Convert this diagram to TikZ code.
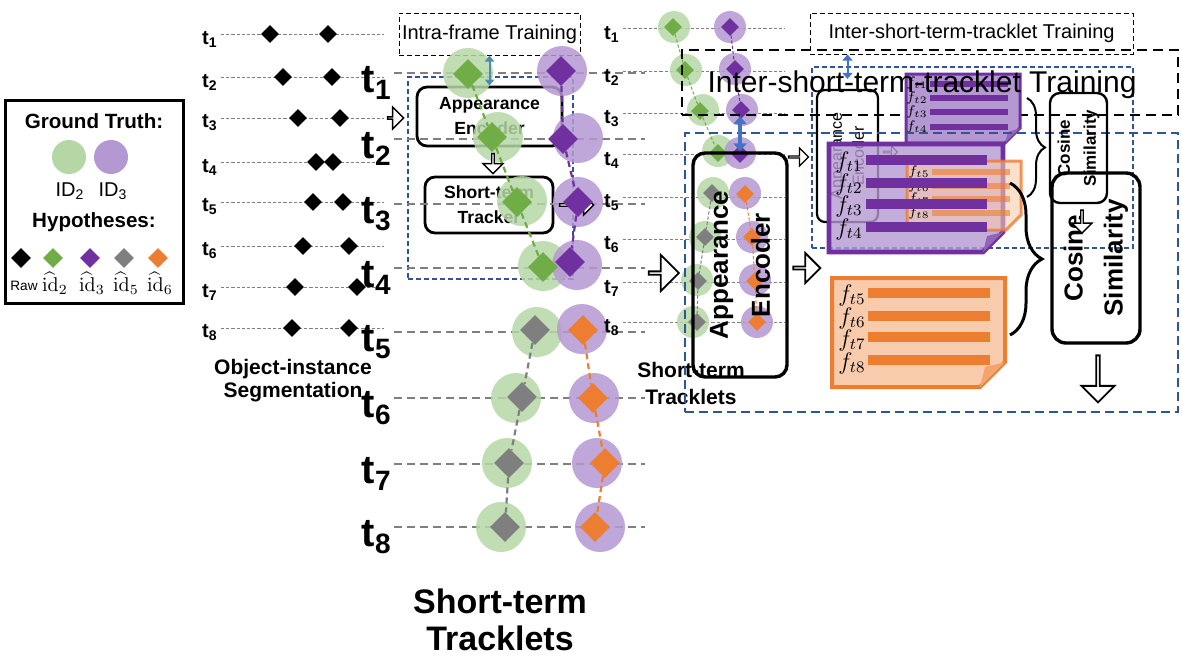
\documentclass[tikz,border=0pt]{standalone}
\usepackage[no-math]{fontspec}
\setmainfont{Liberation Sans}
\usepackage{amsmath}
\usetikzlibrary{arrows.meta,positioning,shapes.geometric,shapes.arrows,decorations.pathreplacing}
\definecolor{gtgreen}{RGB}{181,215,166}
\definecolor{gtpurple}{RGB}{180,152,210}
\definecolor{hypgreen}{RGB}{112,173,71}
\definecolor{hyppurple}{RGB}{112,48,160}
\definecolor{hypgray}{RGB}{127,127,127}
\definecolor{hyporange}{RGB}{237,125,49}
\definecolor{docpeach}{RGB}{248,203,173}
\definecolor{docviolet}{RGB}{180,152,210}
\definecolor{dashblue}{RGB}{47,85,151}
\definecolor{arrowblue}{RGB}{68,114,196}
\definecolor{arrowteal}{RGB}{78,140,170}
\tikzset{
  tsmall/.style={font=\fontsize{10}{12}\selectfont\bfseries, inner sep=0pt, anchor=east},
  tbig/.style={font=\fontsize{20}{24}\selectfont\bfseries, inner sep=0pt, anchor=east},
  tline/.style={draw=hypgray, line width=0.5pt, dash pattern=on 1.6pt off 1pt},
  tlinebig/.style={draw=hypgray, line width=1.1pt, dash pattern=on 4pt off 2.5pt},
  dmd/.style={diamond, inner sep=0pt, minimum size=9pt},
  dmdbig/.style={diamond, inner sep=0pt, minimum size=15pt},
  dmdleg/.style={diamond, inner sep=0pt, minimum size=10pt},
  gt/.style={circle, inner sep=0pt, minimum size=16pt, fill opacity=0.85},
  gtbig/.style={circle, inner sep=0pt, minimum size=25pt, fill opacity=0.85},
  gtleg/.style={circle, inner sep=0pt, minimum size=17pt},
  trk/.style={line width=0.5pt, dash pattern=on 1.6pt off 1pt},
  trkbig/.style={line width=1.1pt, dash pattern=on 3pt off 2pt},
  caption/.style={font=\fontsize{10.5}{11.5}\selectfont\bfseries, align=center},
  plain/.style={font=\fontsize{10}{12}\selectfont},
  idhat/.style={font=\fontsize{10}{12}\selectfont},
  legbox/.style={draw, line width=1.5pt, inner sep=0pt},
  legtitle/.style={font=\fontsize{10.3}{12}\selectfont\bfseries},
  trainbox/.style={draw, line width=0.5pt, dash pattern=on 2.5pt off 1.5pt, inner sep=0pt,
                   font=\fontsize{10}{12}\selectfont},
  trainboxbig/.style={draw, line width=1.2pt, dash pattern=on 5pt off 3pt, inner sep=0pt},
  blueframe/.style={draw=dashblue, line width=0.6pt, dash pattern=on 2.5pt off 1.5pt, inner sep=0pt},
  blueframebig/.style={draw=dashblue, line width=1.1pt, dash pattern=on 4.5pt off 2.5pt, inner sep=0pt},
  block/.style={draw, rounded corners=5pt, line width=1.4pt, inner sep=0pt, align=center},
  blocktext/.style={align=center, inner sep=0pt},
  hollow/.style={single arrow, draw, fill=white, line width=0.9pt, inner sep=0pt},
  dblteal/.style={{Triangle[length=3pt,width=4.5pt]}-{Triangle[length=3pt,width=4.5pt]}, draw=arrowteal, line width=1pt},
  dblsmall/.style={{Triangle[length=3pt,width=5pt]}-{Triangle[length=3pt,width=5pt]}, draw=arrowblue, line width=1pt},
  dblbig/.style={{Triangle[length=4pt,width=6.5pt]}-{Triangle[length=4pt,width=6.5pt]}, draw=arrowblue, line width=2pt},
  docv/.style={draw=hyppurple, fill=docviolet, line width=2.4pt},
  doco/.style={draw=hyporange, fill=docpeach, line width=2pt},
  feat/.style={font=\fontsize{12}{12}\selectfont, inner sep=0pt},
  featsmall/.style={font=\fontsize{7}{7}\selectfont, inner sep=0pt},
  brc/.style={decorate, decoration={brace, amplitude=#1}}
}

\begin{document}
\begin{tikzpicture}[x=0.5pt, y=-0.5pt]
  \useasboundingbox (0,0) rectangle (1182,661);

  \node[legbox, minimum width=89pt, minimum height=101.5pt] (legend) at (94,201.5) {};
  \node[legtitle] (gtT) at (94,121) {Ground Truth:};
  \node[gtleg, fill=gtgreen] (lgG) at (69,157) {};
  \node[gtleg, fill=gtpurple] (lgP) at (111,157) {};
  \node[plain] (lgGid) at (70,191) {ID\textsubscript{2}};
  \node[plain] (lgPid) at (113,191) {ID\textsubscript{3}};
  \node[legtitle] (hypT) at (94,222) {Hypotheses:};
  \node[dmdleg, fill=black] (lhR) at (21,258) {};
  \node[dmdleg, fill=hypgreen] (lh2) at (53,258) {};
  \node[dmdleg, fill=hyppurple] (lh3) at (90,258) {};
  \node[dmdleg, fill=hypgray] (lh5) at (124,258) {};
  \node[dmdleg, fill=hyporange] (lh6) at (158,258) {};
  \node[font=\fontsize{6.8}{8}\selectfont] (lhRt) at (24,286) {Raw};
  \node[idhat] (lh2t) at (55,283) {$\widehat{\mathrm{id}}_2$};
  \node[idhat] (lh3t) at (92,283) {$\widehat{\mathrm{id}}_3$};
  \node[idhat] (lh5t) at (126,283) {$\widehat{\mathrm{id}}_5$};
  \node[idhat] (lh6t) at (160,283) {$\widehat{\mathrm{id}}_6$};

  \node[tsmall] (a1) at (218,39) {t\textsubscript{1}};
  \node[tsmall] (a2) at (218,82) {t\textsubscript{2}};
  \node[tsmall] (a3) at (218,123) {t\textsubscript{3}};
  \node[tsmall] (a4) at (218,167) {t\textsubscript{4}};
  \node[tsmall] (a5) at (218,207) {t\textsubscript{5}};
  \node[tsmall] (a6) at (218,251) {t\textsubscript{6}};
  \node[tsmall] (a7) at (218,292) {t\textsubscript{7}};
  \node[tsmall] (a8) at (218,333) {t\textsubscript{8}};
  \draw[tline] (a1.east) ++(3,-5) -- ++(163,0); \draw[tline] (a2.east) ++(3,-5) -- ++(163,0);
  \draw[tline] (a3.east) ++(3,-5) -- ++(163,0); \draw[tline] (a4.east) ++(3,-5) -- ++(163,0);
  \draw[tline] (a5.east) ++(3,-5) -- ++(163,0); \draw[tline] (a6.east) ++(3,-5) -- ++(163,0);
  \draw[tline] (a7.east) ++(3,-5) -- ++(163,0); \draw[tline] (a8.east) ++(3,-5) -- ++(163,0);
  \node[dmd, fill=black] (ra1l) at (270,34) {}; \node[dmd, fill=black] (ra1r) at (328,34) {};
  \node[dmd, fill=black] (ra2l) at (283,77) {}; \node[dmd, fill=black] (ra2r) at (332,77) {};
  \node[dmd, fill=black] (ra3l) at (298,118) {}; \node[dmd, fill=black] (ra3r) at (340,118) {};
  \node[dmd, fill=black] (ra4l) at (316,162) {}; \node[dmd, fill=black] (ra4r) at (333,162) {};
  \node[dmd, fill=black] (ra5l) at (313,202) {}; \node[dmd, fill=black] (ra5r) at (343,202) {};
  \node[dmd, fill=black] (ra6l) at (303,246) {}; \node[dmd, fill=black] (ra6r) at (349,246) {};
  \node[dmd, fill=black] (ra7l) at (295,287) {}; \node[dmd, fill=black] (ra7r) at (357,287) {};
  \node[dmd, fill=black] (ra8l) at (292,328) {}; \node[dmd, fill=black] (ra8r) at (349,328) {};
  \node[caption] (segcap) at (293,381) {Object-instance\\Segmentation};

  \node[trainbox, minimum width=90.5pt, minimum height=21pt] (intraT) at (489.5,34) {Intra-frame Training};
  \node[blueframe, minimum width=82.5pt, minimum height=101pt] (blueB) at (490.5,178) {};
  \node[block, minimum width=72.5pt, minimum height=29.5pt, font=\fontsize{8.8}{12.5}\selectfont\bfseries] (encB) at (489.5,116.5) {Appearance\\Encoder};
  \node[block, minimum width=64pt, minimum height=28pt, font=\fontsize{8.8}{12.5}\selectfont\bfseries] (trkB) at (489,205) {Short-term\\Tracker};
  \node[hollow, line width=0.7pt, minimum height=8pt, minimum width=11pt, single arrow head extend=3pt] (inB) at (395,118) {};

  \node[tbig] (b1) at (392,83) {t\textsubscript{1}};
  \node[tbig] (b2) at (392,149) {t\textsubscript{2}};
  \node[tbig] (b3) at (392,214) {t\textsubscript{3}};
  \node[tbig] (b4) at (392,278) {t\textsubscript{4}};
  \node[tbig] (b5) at (392,342) {t\textsubscript{5}};
  \node[tbig] (b6) at (392,408) {t\textsubscript{6}};
  \node[tbig] (b7) at (392,474) {t\textsubscript{7}};
  \node[tbig] (b8) at (392,537) {t\textsubscript{8}};
  \draw[tlinebig] (b1.east) ++(2,-10) -- ++(251,0); \draw[tlinebig] (b2.east) ++(2,-10) -- ++(251,0);
  \draw[tlinebig] (b3.east) ++(2,-10) -- ++(251,0); \draw[tlinebig] (b4.east) ++(2,-10) -- ++(251,0);
  \draw[tlinebig] (b5.east) ++(2,-10) -- ++(251,0); \draw[tlinebig] (b6.east) ++(2,-10) -- ++(251,0);
  \draw[tlinebig] (b7.east) ++(2,-10) -- ++(251,0); \draw[tlinebig] (b8.east) ++(2,-10) -- ++(251,0);
  \node[gtbig, fill=gtgreen] (gb1) at (468,73) {}; \node[gtbig, fill=gtpurple] (pb1) at (562,71) {};
  \node[gtbig, fill=gtgreen] (gb2) at (498,137) {}; \node[gtbig, fill=gtpurple] (pb2) at (578,138) {};
  \node[gtbig, fill=gtgreen] (gb3) at (522,201) {}; \node[gtbig, fill=gtpurple] (pb3) at (578,202) {};
  \node[gtbig, fill=gtgreen] (gb4) at (543,266) {}; \node[gtbig, fill=gtpurple] (pb4) at (577,265) {};
  \node[gtbig, fill=gtgreen] (gb5) at (537,332) {}; \node[gtbig, fill=gtpurple] (pb5) at (582,329) {};
  \node[gtbig, fill=gtgreen] (gb6) at (516,398) {}; \node[gtbig, fill=gtpurple] (pb6) at (594,398) {};
  \node[gtbig, fill=gtgreen] (gb7) at (507,463) {}; \node[gtbig, fill=gtpurple] (pb7) at (597,463) {};
  \node[gtbig, fill=gtgreen] (gb8) at (501,527) {}; \node[gtbig, fill=gtpurple] (pb8) at (600,527) {};
  \draw[dblteal] (intraT.south -| encB.north) -- (encB.north);
  \node[hollow, rotate=270, line width=0.7pt, minimum height=10pt, minimum width=10pt, single arrow head extend=2.5pt] (downB) at (493,163) {};
  \node[hollow, line width=0.7pt, minimum height=17pt, minimum width=10pt, single arrow head extend=2.5pt] (outB) at (576,205) {};
  \node[dmdbig, fill=hypgreen] (dgb1) at (468,74) {}; \node[dmdbig, fill=hyppurple] (dpb1) at (561,71) {};
  \node[dmdbig, fill=hypgreen] (dgb2) at (492,137) {}; \node[dmdbig, fill=hyppurple] (dpb2) at (563,139) {};
  \node[dmdbig, fill=hypgreen] (dgb3) at (517,202) {}; \node[dmdbig, fill=hyppurple] (dpb3) at (578,202) {};
  \node[dmdbig, fill=hypgreen] (dgb4) at (543,267) {}; \node[dmdbig, fill=hyppurple] (dpb4) at (570,262) {};
  \node[dmdbig, fill=hypgray] (dgb5) at (535,330) {}; \node[dmdbig, fill=hyporange] (dpb5) at (583,330) {};
  \node[dmdbig, fill=hypgray] (dgb6) at (522,397) {}; \node[dmdbig, fill=hyporange] (dpb6) at (593,398) {};
  \node[dmdbig, fill=hypgray] (dgb7) at (509,463) {}; \node[dmdbig, fill=hyporange] (dpb7) at (605,463) {};
  \node[dmdbig, fill=hypgray] (dgb8) at (505,527) {}; \node[dmdbig, fill=hyporange] (dpb8) at (595,527) {};
  \draw[trkbig, hypgreen] (dgb1) -- (dgb2) -- (dgb3) -- (dgb4);
  \draw[trkbig, hyppurple] (dpb1) -- (dpb2) -- (dpb3) -- (dpb4);
  \draw[trkbig, hypgray] (dgb5) -- (dgb6) -- (dgb7) -- (dgb8);
  \draw[trkbig, hyporange] (dpb5) -- (dpb6) -- (dpb7) -- (dpb8);
  \node[font=\fontsize{17}{18.5}\selectfont\bfseries, align=center] (trkcapB) at (500,620) {Short-term\\Tracklets};

  \node[tsmall] (c1) at (620,34) {t\textsubscript{1}};
  \node[tsmall] (c2) at (620,77) {t\textsubscript{2}};
  \node[tsmall] (c3) at (620,119) {t\textsubscript{3}};
  \node[tsmall] (c4) at (620,160) {t\textsubscript{4}};
  \node[tsmall] (c5) at (620,203) {t\textsubscript{5}};
  \node[tsmall] (c6) at (620,245) {t\textsubscript{6}};
  \node[tsmall] (c7) at (620,288) {t\textsubscript{7}};
  \node[tsmall] (c8) at (620,328) {t\textsubscript{8}};
  \draw[tline] (c1.east) ++(3,-6) -- ++(162,0); \draw[tline] (c2.east) ++(3,-6) -- ++(162,0);
  \draw[tline] (c3.east) ++(3,-6) -- ++(162,0); \draw[tline] (c4.east) ++(3,-6) -- ++(162,0);
  \draw[tline] (c5.east) ++(3,-6) -- ++(162,0); \draw[tline] (c6.east) ++(3,-6) -- ++(162,0);
  \draw[tline] (c7.east) ++(3,-6) -- ++(162,0); \draw[tline] (c8.east) ++(3,-6) -- ++(162,0);
  \node[gt, fill=gtgreen] (gc1) at (674,27) {}; \node[gt, fill=gtpurple] (pc1) at (730,27) {};
  \node[gt, fill=gtgreen] (gc2) at (686,70) {}; \node[gt, fill=gtpurple] (pc2) at (735,69) {};
  \node[gt, fill=gtgreen] (gc3) at (703,110) {}; \node[gt, fill=gtpurple] (pc3) at (742,110) {};
  \node[gt, fill=gtgreen] (gc4) at (718,151) {}; \node[gt, fill=gtpurple] (pc4) at (740,153) {};
  \node[gt, fill=gtgreen] (gc5) at (713,193) {}; \node[gt, fill=gtpurple] (pc5) at (745,193) {};
  \node[gt, fill=gtgreen] (gc6) at (705,237) {}; \node[gt, fill=gtpurple] (pc6) at (752,237) {};
  \node[gt, fill=gtgreen] (gc7) at (697,280) {}; \node[gt, fill=gtpurple] (pc7) at (755,280) {};
  \node[gt, fill=gtgreen] (gc8) at (693,322) {}; \node[gt, fill=gtpurple] (pc8) at (757,322) {};
  \node[dmd, fill=hypgreen] (dgc1) at (673,27) {}; \node[dmd, fill=hyppurple] (dpc1) at (730,27) {};
  \node[dmd, fill=hypgreen] (dgc2) at (685,70) {}; \node[dmd, fill=hyppurple] (dpc2) at (735,69) {};
  \node[dmd, fill=hypgreen] (dgc3) at (700,111) {}; \node[dmd, fill=hyppurple] (dpc3) at (741,110) {};
  \node[dmd, fill=hypgreen] (dgc4) at (718,153) {}; \node[dmd, fill=hyppurple] (dpc4) at (740,154) {};
  \node[dmd, fill=hypgray] (dgc5) at (712,193) {}; \node[dmd, fill=hyporange] (dpc5) at (745,194) {};
  \node[dmd, fill=hypgray] (dgc6) at (705,237) {}; \node[dmd, fill=hyporange] (dpc6) at (752,237) {};
  \node[dmd, fill=hypgray] (dgc7) at (698,281) {}; \node[dmd, fill=hyporange] (dpc7) at (755,281) {};
  \node[dmd, fill=hypgray] (dgc8) at (697,322) {}; \node[dmd, fill=hyporange] (dpc8) at (757,322) {};
  \draw[trk, hypgreen] (dgc1) -- (dgc2) -- (dgc3) -- (dgc4);
  \draw[trk, hyppurple] (dpc1) -- (dpc2) -- (dpc3) -- (dpc4);
  \draw[trk, hypgray] (dgc5) -- (dgc6) -- (dgc7) -- (dgc8);
  \draw[trk, hyporange] (dpc5) -- (dpc6) -- (dpc7) -- (dpc8);
  \node[font=\fontsize{10.5}{13.5}\selectfont\bfseries, align=center] (trkcapC) at (691,383) {Short-term\\Tracklets};

  \node[trainboxbig, minimum width=248pt, minimum height=32.5pt] (bigInterT) at (930,82.5) {};
  \node[blueframe, minimum width=160.5pt, minimum height=90.5pt] (blueCs) at (972.5,157.5) {};
  \node[trainbox, minimum width=161.5pt, minimum height=20.5pt] (smallInterT) at (971.5,33.5) {Inter-short-term-tracklet Training};
  \node[block, rounded corners=4pt, line width=1.1pt, minimum width=30.5pt, minimum height=66pt] (encCs) at (847.5,156) {};
  \node[blocktext, rotate=90, font=\fontsize{8}{11}\selectfont] (encCstxt) at (encCs) {Appearance\\Encoder};
  \draw[dblsmall, shorten >=5pt] (encCs.north |- smallInterT.south) -- (encCs.north);
  \node[hollow, line width=0.6pt, minimum height=10pt, minimum width=9pt, single arrow head extend=2.5pt] (inCs) at (798,157) {};
  \draw[docv, line width=1.5pt] (906,74) -- (1020,74) -- (1020,128) -- (1005,143) -- (906,143) -- cycle;
  \fill[docviolet!50!hyppurple] (1020,128) -- (1008,132) -- (1005,143) -- cycle;
  \fill[hyppurple] (930,81) rectangle (1008,87); \fill[hyppurple] (930,95) rectangle (1008,101);
  \fill[hyppurple] (930,109) rectangle (1008,115); \fill[hyppurple] (930,124) rectangle (1008,130);
  \node[featsmall] (fs1) at (917,83) {$f_{t1}$};
  \node[featsmall] (fs2) at (917,98) {$f_{t2}$};
  \node[featsmall] (fs3) at (917,112) {$f_{t3}$};
  \node[featsmall] (fs4) at (917,127) {$f_{t4}$};
  \node[font=\fontsize{15}{18}\selectfont, inner sep=0pt] (bigInterTxt) at (922,85) {Inter-short-term-tracklet Training};

  \node[blueframebig, minimum width=246.5pt, minimum height=139.5pt] (blueC) at (931.5,272.5) {};
  \node[block, rounded corners=6pt, line width=1.7pt, minimum width=47pt, minimum height=112pt] (encC) at (740,265) {};
  \node[blocktext, rotate=90, font=\fontsize{13}{21}\selectfont\bfseries] (encCtxt) at (encC) {Appearance\\Encoder};
  \draw[dblbig] (encC.north |- bigInterT.south) -- (encC.north);
  \node[hollow, minimum height=15pt, minimum width=18pt, single arrow head extend=4.5pt] (inC) at (663,273) {};
  \node[hollow, minimum height=13.5pt, minimum width=15pt, single arrow head extend=4pt] (outC) at (806,268) {};
  \node[hollow, line width=0.5pt, minimum height=7pt, minimum width=6pt, single arrow head extend=1.5pt] (tinyC) at (890,152) {};

  \draw[docv, fill opacity=0.8] (829,144) -- (1003,144) -- (1003,232) -- (983,252) -- (829,252) -- cycle;
  \fill[docviolet!50!hyppurple] (1003,232) -- (987,236) -- (983,252) -- cycle;
  \draw[doco, line width=1.5pt, fill opacity=0.6, draw opacity=0.8] (907,161) -- (1021,161) -- (1021,215) -- (1006,230) -- (907,230) -- cycle;
  \fill[hyporange, opacity=0.6] (932,169) rectangle (1010,175); \fill[hyporange, opacity=0.6] (932,183) rectangle (1010,189);
  \fill[hyporange, opacity=0.6] (932,196) rectangle (1010,202); \fill[hyporange, opacity=0.6] (932,210) rectangle (1010,216);
  \node[featsmall] (fs5) at (919,172) {$f_{t5}$};
  \node[featsmall] (fs6) at (919,186) {$f_{t6}$};
  \node[featsmall] (fs7) at (919,199) {$f_{t7}$};
  \node[featsmall] (fs8) at (919,213) {$f_{t8}$};
  \fill[hyppurple] (866,155) rectangle (987,165); \fill[hyppurple] (866,178) rectangle (987,188);
  \fill[hyppurple] (866,199) rectangle (987,209); \fill[hyppurple] (866,222) rectangle (987,232);
  \node[feat] (f1) at (849,162) {$f_{t1}$};
  \node[feat] (f2) at (849,184) {$f_{t2}$};
  \node[feat] (f3) at (849,206) {$f_{t3}$};
  \node[feat] (f4) at (849,229) {$f_{t4}$};

  \draw[doco] (832,278) -- (1005,278) -- (1005,362) -- (980,387) -- (832,387) -- cycle;
  \fill[docpeach!50!hyporange] (1005,362) -- (985,367) -- (980,387) -- cycle;
  \fill[hyporange] (868,288) rectangle (990,298); \fill[hyporange] (868,311) rectangle (990,321);
  \fill[hyporange] (868,332) rectangle (990,342); \fill[hyporange] (868,355) rectangle (990,365);
  \node[feat] (f5) at (852,295) {$f_{t5}$};
  \node[feat] (f6) at (852,318) {$f_{t6}$};
  \node[feat] (f7) at (852,340) {$f_{t7}$};
  \node[feat] (f8) at (852,363) {$f_{t8}$};

  \draw[brc=16pt, line width=1.5pt] (1010,183) -- (1010,335);
  \draw[brc=9pt, line width=1pt] (1027,98) -- (1027,197);

  \node[block, rounded corners=5pt, line width=1.2pt, minimum width=28.5pt, minimum height=55pt] (cosCs) at (1078.5,148) {};
  \node[blocktext, rotate=90, font=\fontsize{8.5}{13}\selectfont\bfseries] (cosCstxt) at (cosCs) {Cosine\\Similarity};
  \node[block, rounded corners=7pt, line width=1.7pt, minimum width=44pt, minimum height=85pt] (cosC) at (1096,258) {};
  \node[blocktext, rotate=90, font=\fontsize{13}{20}\selectfont\bfseries] (cosCtxt) at (cosC) {Cosine\\Similarity};
  \node[hollow, rotate=270, line width=0.7pt, minimum height=11.5pt, minimum width=10pt, single arrow head extend=2.5pt] (downCs) at (1082,221) {};
  \node[hollow, rotate=270, minimum height=23.5pt, minimum width=16.5pt, single arrow head extend=3.75pt] (downC) at (1098,378) {};
\end{tikzpicture}
\end{document}
